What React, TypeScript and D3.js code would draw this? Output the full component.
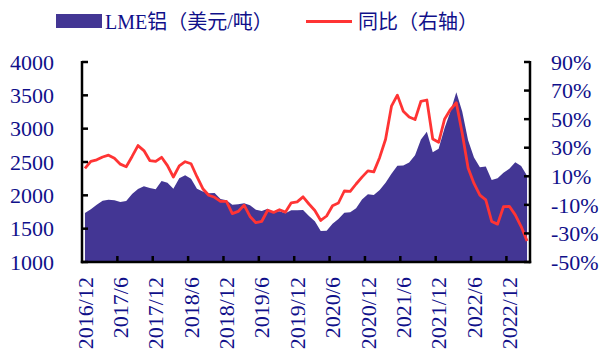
import React from "react";
import * as d3 from "d3";

const months: string[] = (() => {
  const out: string[] = [];
  let y = 2016, m = 12;
  for (let i = 0; i < 76; i++) {
    out.push(`${y}/${m}`);
    m++;
    if (m > 12) { m = 1; y++; }
  }
  return out;
})();

const priceValues: number[] = [
  1735, 1790, 1860, 1920, 1935, 1925, 1900, 1915, 2020, 2095, 2135, 2110,
  2090, 2215, 2190, 2100, 2255, 2300, 2250, 2100, 2057, 2030, 2035, 1945,
  1925, 1860, 1868, 1880, 1850, 1785, 1765, 1800, 1748, 1760, 1730, 1775,
  1775, 1780, 1690, 1611, 1465, 1468, 1575, 1645, 1737, 1745, 1805, 1938,
  2015, 2006, 2079, 2190, 2324, 2442, 2446, 2491, 2601, 2836, 2955, 2645,
  2700, 3006, 3258, 3545, 3256, 2828, 2568, 2420, 2431, 2230, 2256, 2340,
  2400, 2496, 2440, 2295,
];

const yoyValues: number[] = [
  15.5, 20.5, 21.5, 23.5, 24.8, 22.6, 18.5, 16.7, 23.9, 31.5, 28, 21,
  20.4, 23.3, 17.5, 9.5, 17.3, 20.2, 18.8, 9.7, 1.3, -3.3, -4.7, -7.6,
  -7.6, -16.1, -14.6, -10.2, -18.1, -22.5, -21.5, -13.8, -15.3, -13.4, -15.1, -8.6,
  -7.9, -4.4, -9.4, -13.9, -20.9, -17.8, -10.6, -8.7, -0.3, -0.6, 4.6, 9.4,
  13.8, 13.1, 23.2, 35.9, 59.1, 66.8, 55.5, 51.5, 49.7, 62.5, 63.4, 36.1,
  33.8, 49.9, 56.7, 61.5, 40.1, 15.8, 5.0, -3.2, -6.5, -21.6, -23.5, -11.3,
  -11.0, -17.0, -25.2, -35.3,
];

const leftTicks: number[] = [1000, 1500, 2000, 2500, 3000, 3500, 4000];
const rightTicks: number[] = [-50, -30, -10, 10, 30, 50, 70, 90];

const legendPrice = "LME铝（美元/吨）";
const legendYoy = "同比（右轴）";

const AREA = "#433694";
const RED = "#FF3434";
const TEXT = "#10108a";
const FONT = "'Liberation Serif', 'Times New Roman', 'Noto Sans CJK SC', serif";

export default function App() {
  const W = 603, H = 358;
  const L = 82, R = 530, T = 62, B = 262;

  const band = d3.scaleBand<string>().domain(months).range([L, R]).paddingInner(0).paddingOuter(0);
  const bw = band.bandwidth();
  const xc = (i: number) => (band(months[i]) as number) + bw / 2;

  const yL = d3.scaleLinear().domain([1000, 4000]).range([B, T]);
  const yR = d3.scaleLinear().domain([-50, 90]).range([B, T]);

  const areaGen = d3.area<number>()
    .x((_, i) => xc(i))
    .y0(yL(1000))
    .y1((d) => yL(d));
  const lineGen = d3.line<number>()
    .x((_, i) => xc(i))
    .y((d) => yR(d));

  const labelIdx = months.map((_, i) => i).filter((i) => i % 6 === 0 && i <= 72);
  const tickIdx = months.map((_, i) => i).filter((i) => i % 6 === 0 && i > 0);

  return (
    <svg width={W} height={H} style={{ position: "absolute", left: 0, top: 0, background: "#fff" }}
      fontFamily={FONT}>
      {/* legend */}
      <rect x={56} y={14} width={46} height={14} fill={AREA} />
      <text x={105} y={29} fontSize={20} fill={TEXT}>{legendPrice}</text>
      <line x1={306} x2={352} y1={21.5} y2={21.5} stroke={RED} strokeWidth={3} />
      <text x={358} y={29} fontSize={20} fill={TEXT}>{legendYoy}</text>

      {/* area */}
      <path d={areaGen(priceValues) || ""} fill={AREA} />
      {/* line */}
      <path d={lineGen(yoyValues) || ""} fill="none" stroke={RED} strokeWidth={2.8} strokeLinejoin="round" />

      {/* axes lines */}
      <g stroke="#000" strokeWidth={2.5} fill="none">
        <line x1={L} x2={L} y1={T - 1} y2={B + 1.2} />
        <line x1={R} x2={R} y1={T - 1} y2={B + 1.2} />
        <line x1={L - 1.2} x2={R + 1.2} y1={B} y2={B} />
        {leftTicks.map((t) => (
          <line key={"lt" + t} x1={L} x2={L + 6} y1={yL(t)} y2={yL(t)} />
        ))}
        {rightTicks.map((t) => (
          <line key={"rt" + t} x1={R} x2={R - 6} y1={yR(t)} y2={yR(t)} />
        ))}
        {tickIdx.map((i) => {
          const x = band(months[i]) as number;
          return <line key={"bt" + i} x1={x} x2={x} y1={B} y2={B - 6} />;
        })}
      </g>

      {/* left labels */}
      {leftTicks.map((t) => (
        <text key={"ll" + t} x={54} y={yL(t)} dy="0.35em" textAnchor="end" fontSize={22} fill={TEXT}>{t}</text>
      ))}
      {/* right labels */}
      {rightTicks.map((t) => (
        <text key={"rl" + t} x={551} y={yR(t)} dy="0.35em" textAnchor="start" fontSize={22} fill={TEXT}>{`${t}%`}</text>
      ))}
      {/* x labels */}
      {labelIdx.map((i) => (
        <text key={"xl" + i} transform={`translate(${xc(i)},277) rotate(-90)`} dy="0.35em"
          textAnchor="end" fontSize={22} fill={TEXT}>{months[i]}</text>
      ))}
    </svg>
  );
}
